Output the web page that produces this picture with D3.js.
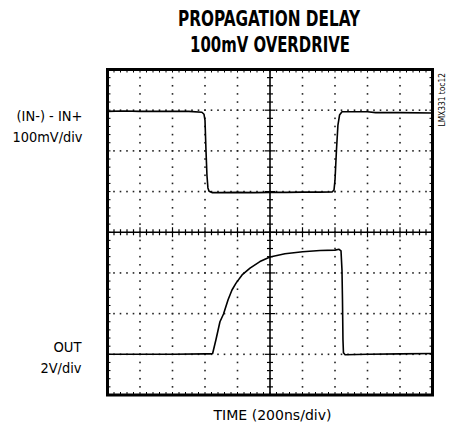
<!DOCTYPE html>
<html><head><meta charset="utf-8">
<script src="https://cdn.jsdelivr.net/npm/d3@7/dist/d3.min.js"></script>
<style>body{margin:0;background:#fff}svg{display:block}</style>
</head><body>
<script>
// time in ns (200 ns/div), trace levels in screen divisions from centre
const inTime  = [0,100,200,300,400,500,581,594,600,606,612,618,625,643,692,800,900,1000,1100,1200,1300,1382,1394,1400,1409,1418,1428,1443,1600,1650,1800,2000];
const inLevel = [2.97,2.98,2.97,2.97,2.97,2.97,2.95,2.90,2.75,2.02,1.40,1.09,1.01,0.975,0.975,0.98,0.975,0.98,0.98,0.985,0.985,0.99,1.04,1.28,2.02,2.63,2.88,2.96,2.96,2.94,2.94,2.93];
const outTime  = [0,200,400,600,628,647,668,692,714,742,766,791,828,877,938,1000,1092,1201,1308,1400,1425,1437,1443,1446,1449,1452,1462,1600,1800,2000];
const outLevel = [-3.0,-3.0,-3.0,-2.99,-2.99,-2.98,-2.63,-2.20,-2.01,-1.66,-1.42,-1.25,-1.05,-0.88,-0.72,-0.61,-0.53,-0.48,-0.45,-0.44,-0.42,-0.46,-0.93,-1.66,-2.64,-2.96,-3.01,-3.0,-2.99,-2.98];
const titleLines = ["PROPAGATION DELAY","100mV OVERDRIVE"];
const xLabel = "TIME (200ns/div)";
const inLabel = ["(IN-) - IN+","100mV/div"];
const outLabel = ["OUT","2V/div"];
const sideNote = "LMX331 toc12";

const W=451,H=429;
const svg=d3.select("body").append("svg").attr("width",W).attr("height",H);
const x=d3.scaleLinear().domain([0,2000]).range([107.5,432.5]);
const y=d3.scaleLinear().domain([-4,4]).range([395,69.5]);
const cond='"Liberation Sans Narrow","DejaVu Sans Condensed","Roboto Condensed","Liberation Sans",sans-serif';

const majorX=d3.range(0,2001,200), majorY=d3.range(-4,4.01,1);
const minorX=d3.range(0,2000.01,40), minorY=d3.range(-4,4.001,0.2);

const g=svg.append("g");
// dotted grid
majorY.filter(v=>v!==0&&Math.abs(v)!==4).forEach(v=>{
  g.selectAll(null).data(minorX).enter().append("rect")
   .attr("x",d=>x(d)-0.8).attr("y",y(v)-0.8).attr("width",1.6).attr("height",1.6).attr("fill","#222");
});
majorX.filter(v=>v!==1000&&v!==0&&v!==2000).forEach(v=>{
  g.selectAll(null).data(minorY).enter().append("rect")
   .attr("x",x(v)-0.8).attr("y",d=>y(d)-0.8).attr("width",1.6).attr("height",1.6).attr("fill","#222");
});
// centre axes
g.append("line").attr("x1",x(0)).attr("x2",x(2000)).attr("y1",y(0)).attr("y2",y(0)).attr("stroke","#000").attr("stroke-width",1.6);
g.append("line").attr("x1",x(1000)).attr("x2",x(1000)).attr("y1",y(-4)).attr("y2",y(4)).attr("stroke","#000").attr("stroke-width",1.6);
g.selectAll(null).data(minorX).enter().append("line")
 .attr("x1",d=>x(d)).attr("x2",d=>x(d))
 .attr("y1",d=>y(0)-(d%200===0?5:3)).attr("y2",d=>y(0)+(d%200===0?5:3))
 .attr("stroke","#000").attr("stroke-width",1.2);
g.selectAll(null).data(minorY).enter().append("line")
 .attr("y1",d=>y(d)).attr("y2",d=>y(d))
 .attr("x1",d=>x(1000)-(Math.abs(d-Math.round(d))<1e-6?5:3)).attr("x2",d=>x(1000)+(Math.abs(d-Math.round(d))<1e-6?5:3))
 .attr("stroke","#000").attr("stroke-width",1.2);
// border ticks
g.selectAll(null).data(minorX).enter().append("line")
 .attr("x1",d=>x(d)).attr("x2",d=>x(d)).attr("y1",y(4)).attr("y2",y(4)+3).attr("stroke","#000").attr("stroke-width",1);
g.selectAll(null).data(minorX).enter().append("line")
 .attr("x1",d=>x(d)).attr("x2",d=>x(d)).attr("y1",y(-4)).attr("y2",y(-4)-3).attr("stroke","#000").attr("stroke-width",1);
g.selectAll(null).data(minorY).enter().append("line")
 .attr("y1",d=>y(d)).attr("y2",d=>y(d)).attr("x1",x(0)).attr("x2",x(0)+3).attr("stroke","#000").attr("stroke-width",1);
g.selectAll(null).data(minorY).enter().append("line")
 .attr("y1",d=>y(d)).attr("y2",d=>y(d)).attr("x1",x(2000)).attr("x2",x(2000)-3).attr("stroke","#000").attr("stroke-width",1);
// frame
g.append("rect").attr("x",x(0)).attr("y",y(4)).attr("width",x(2000)-x(0)).attr("height",y(-4)-y(4))
 .attr("fill","none").attr("stroke","#000").attr("stroke-width",3);

// traces
const line=d3.line().x(d=>x(d[0])).y(d=>y(d[1])).curve(d3.curveMonotoneX);
const lineL=d3.line().x(d=>x(d[0])).y(d=>y(d[1]));
svg.append("path").datum(d3.zip(inTime,inLevel)).attr("d",lineL).attr("fill","none").attr("stroke","#000").attr("stroke-width",1.6).attr("stroke-linejoin","round");
svg.append("path").datum(d3.zip(outTime,outLevel)).attr("d",lineL).attr("fill","none").attr("stroke","#000").attr("stroke-width",1.6).attr("stroke-linejoin","round");

// texts
function txt(s,xp,yp,size,weight,anchor,len){
  const t=svg.append("text").text(s).attr("x",xp).attr("y",yp).attr("font-family",cond)
   .attr("font-size",size).attr("font-weight",weight).attr("text-anchor",anchor).attr("fill","#000");
  if(len) t.attr("textLength",len).attr("lengthAdjust","spacingAndGlyphs");
  return t;
}
txt(titleLines[0],269,25.5,21,"bold","middle",182);
txt(titleLines[1],270,51.5,21,"bold","middle",160);
txt(inLabel[0],82.5,121,14,"normal","end",66);
txt(inLabel[1],82.5,141.5,14,"normal","end",70);
txt(outLabel[0],81.5,351.5,14,"normal","end",28);
txt(outLabel[1],81.5,373,14,"normal","end",41);
txt(xLabel,272.5,419.5,14,"normal","middle",118);
svg.append("text").text(sideNote).attr("transform","translate(445,126.5) rotate(-90)")
 .attr("font-family",cond).attr("font-size",9.5).attr("textLength",53.5).attr("lengthAdjust","spacingAndGlyphs").attr("fill","#000");
</script>
</body></html>
